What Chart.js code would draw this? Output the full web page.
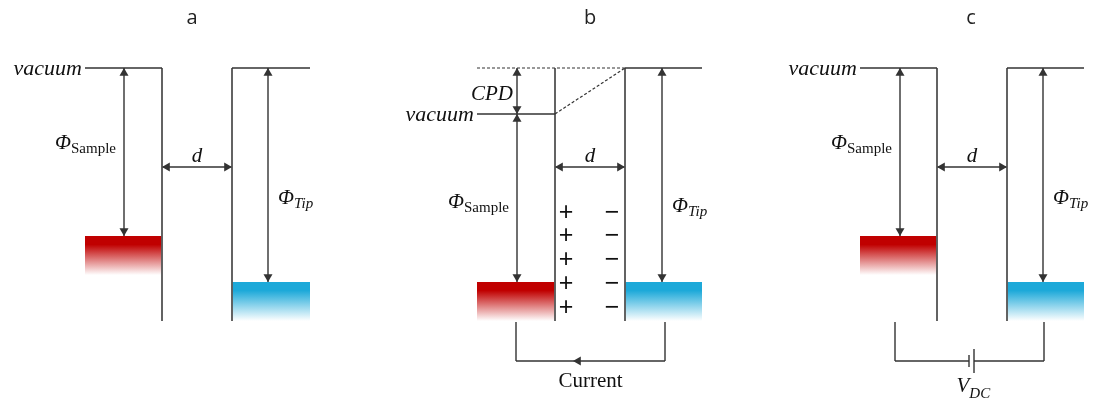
<!DOCTYPE html>
<html><head><meta charset="utf-8">
<script src="https://cdn.jsdelivr.net/npm/chart.js@4/dist/chart.umd.min.js"></script>
<style>html,body{margin:0;padding:0;background:#fff;overflow:hidden}</style>
</head><body>
<canvas id="c" width="1093" height="407" style="display:block;width:1093px;height:407px"></canvas>
<script>
// ---- diagram data (panel a, b, c) ----
const panelTitles   = ['a', 'b', 'c'];
const titleX        = [192, 590, 971];
const sampleWallX   = [162, 555, 937];
const tipWallX      = [232, 625, 1007];
const sampleLeftX   = [85, 477, 860];
const tipRightX     = [310, 702, 1084];
const sampleVacuumY = [68, 114, 68];
const tipVacuumY    = [68, 68, 68];
const sampleFermiY  = [236, 282, 236];
const tipFermiY     = [282, 282, 282];
const phiSampleX    = [124, 517, 900];
const phiTipX       = [268, 662, 1043];
const wallBottomY   = 321;
const gapArrowY     = 167;
const circuitLeftX  = [null, 516, 895];
const circuitRightX = [null, 665, 1044];
const circuitY      = [322, 361];
const chargeRowsY   = [212, 235, 259, 283, 307];
const chargeX       = [566, 612];
const batteryPlateX = [969, 974];
const batteryPlateH = [6, 12];
const currentArrowX = 573;
const levelLabels   = ['vacuum', 'CPD', 'd', 'Current'];
const phiSampleLabelY = [149, 208, 149];
const phiTipLabelY    = [204, 212, 204];

// ---- styling ----
const LINE = '#333333', WALL = '#5c5c5c', TXT = '#111111';
const SERIF = '"Liberation Serif","DejaVu Serif",serif';
const SANS = '"Open Sans","Liberation Sans",sans-serif';
const HEAD_R = 5.2;
const FADE = 39;

const lines = [], fills = [], heads = [];
function seg(pts, color, width, dash) {
  lines.push({data: pts.map(p => ({x: p[0], y: p[1]})), borderColor: color, borderWidth: width,
    borderDash: dash || [], pointRadius: 0, fill: false, showLine: true, tension: 0});
}
const DIRS = {up: [0, -1, 0], down: [0, 1, 180], left: [-1, 0, 270], right: [1, 0, 90]};
function head(x, y, dir) {
  const d = DIRS[dir];
  heads.push({x: x - d[0] * HEAD_R, y: y - d[1] * HEAD_R, rot: d[2]});
}
function vArrow(x, y1, y2) { seg([[x, y1], [x, y2]], LINE, 1.4); head(x, y1, 'up'); head(x, y2, 'down'); }
function hArrow(y, x1, x2) { seg([[x1, y], [x2, y]], LINE, 1.4); head(x1, y, 'left'); head(x2, y, 'right'); }
function grad(top, bottom, c0, c1) {
  return (context) => {
    const ch = context.chart;
    if (!ch.chartArea) return c0;
    const y0 = ch.scales.y.getPixelForValue(top), y1 = ch.scales.y.getPixelForValue(bottom);
    const g = ch.ctx.createLinearGradient(0, y0, 0, y1);
    g.addColorStop(0, c0); g.addColorStop(0.22, c0); g.addColorStop(1, c1);
    return g;
  };
}
function block(l, r, top, color) {
  fills.push({data: [{x: l, y: top}, {x: r, y: top}], fill: {value: top + FADE},
    backgroundColor: grad(top, top + FADE, color, 'rgba(255,255,255,1)'),
    borderWidth: 0, borderColor: 'rgba(0,0,0,0)', pointRadius: 0, showLine: true, tension: 0});
}

for (let i = 0; i < 3; i++) {
  if (i === 1) {
    seg([[sampleLeftX[i], tipVacuumY[i]], [tipWallX[i], tipVacuumY[i]]], '#333', 1.2, [3, 2]);
    seg([[sampleWallX[i], sampleVacuumY[i]], [tipWallX[i], tipVacuumY[i]]], '#333', 1.2, [3, 2]);
    vArrow(phiSampleX[i], tipVacuumY[i], sampleVacuumY[i]);
  }
  seg([[sampleLeftX[i], sampleVacuumY[i]], [sampleWallX[i], sampleVacuumY[i]]], LINE, 1.4);
  seg([[sampleWallX[i], tipVacuumY[i]], [sampleWallX[i], wallBottomY]], WALL, 1.9);
  vArrow(phiSampleX[i], sampleVacuumY[i], sampleFermiY[i]);
  block(sampleLeftX[i], sampleWallX[i], sampleFermiY[i], '#c00000');
  seg([[tipWallX[i], tipVacuumY[i]], [tipRightX[i], tipVacuumY[i]]], LINE, 1.4);
  seg([[tipWallX[i], tipVacuumY[i]], [tipWallX[i], wallBottomY]], WALL, 1.9);
  vArrow(phiTipX[i], tipVacuumY[i], tipFermiY[i]);
  block(tipWallX[i], tipRightX[i], tipFermiY[i], '#1da9d9');
  hArrow(gapArrowY, sampleWallX[i], tipWallX[i]);
  if (circuitLeftX[i] !== null) {
    seg([[circuitLeftX[i], circuitY[0]], [circuitLeftX[i], circuitY[1]]], LINE, 1.4);
    seg([[circuitRightX[i], circuitY[0]], [circuitRightX[i], circuitY[1]]], LINE, 1.4);
    if (i === 1) {
      seg([[circuitLeftX[i], circuitY[1]], [circuitRightX[i], circuitY[1]]], LINE, 1.4);
      head(currentArrowX, circuitY[1], 'left');
    } else {
      seg([[circuitLeftX[i], circuitY[1]], [batteryPlateX[0], circuitY[1]]], LINE, 1.4);
      seg([[batteryPlateX[1], circuitY[1]], [circuitRightX[i], circuitY[1]]], LINE, 1.4);
      seg([[batteryPlateX[0], circuitY[1] - batteryPlateH[0]], [batteryPlateX[0], circuitY[1] + batteryPlateH[0]]], LINE, 1.4);
      seg([[batteryPlateX[1], circuitY[1] - batteryPlateH[1]], [batteryPlateX[1], circuitY[1] + batteryPlateH[1]]], LINE, 1.4);
    }
  }
}

const headSet = {data: heads.map(h => ({x: h.x, y: h.y})), showLine: false, pointStyle: 'triangle',
  pointRadius: HEAD_R, pointRotation: heads.map(h => h.rot), pointBackgroundColor: LINE,
  pointBorderColor: LINE, pointBorderWidth: 0, borderWidth: 0};

const labelPlugin = {
  id: 'labels',
  afterDatasetsDraw(chart) {
    const {ctx, scales} = chart;
    const X = v => scales.x.getPixelForValue(v), Y = v => scales.y.getPixelForValue(v);
    ctx.save();
    ctx.fillStyle = TXT;
    ctx.textBaseline = 'alphabetic';
    const put = (s, x, y, font, align) => { ctx.font = font; ctx.textAlign = align; ctx.fillText(s, X(x), Y(y)); };
    const withSub = (main, sub, x, y, mainFont, subFont, align, subDy) => {
      ctx.font = mainFont; const w1 = ctx.measureText(main).width;
      ctx.font = subFont; const w2 = ctx.measureText(sub).width;
      let sx = X(x);
      if (align === 'right') sx -= w1 + w2; else if (align === 'center') sx -= (w1 + w2) / 2;
      ctx.textAlign = 'left';
      ctx.font = mainFont; ctx.fillText(main, sx, Y(y));
      ctx.font = subFont; ctx.fillText(sub, sx + w1, Y(y) + subDy);
    };
    for (let i = 0; i < 3; i++) {
      ctx.fillStyle = '#222';
      put(panelTitles[i], titleX[i], 24, '20px ' + SANS, 'center');
      ctx.fillStyle = TXT;
      put(levelLabels[0], sampleLeftX[i] - 3, sampleVacuumY[i] + 7, 'italic 22px ' + SERIF, 'right');
      put(levelLabels[2], (sampleWallX[i] + tipWallX[i]) / 2, 162, 'italic 21px ' + SERIF, 'center');
      withSub('\u03A6', 'Sample', phiSampleX[i] - 8, phiSampleLabelY[i], 'italic 21px ' + SERIF, '15px ' + SERIF, 'right', 4);
      withSub('\u03A6', 'Tip', phiTipX[i] + 10, phiTipLabelY[i], 'italic 21px ' + SERIF, 'italic 15px ' + SERIF, 'left', 4);
    }
    put(levelLabels[1], phiSampleX[1] - 4, 100, 'italic 21px ' + SERIF, 'right');
    put(levelLabels[3], (circuitLeftX[1] + circuitRightX[1]) / 2, 387, '21px ' + SERIF, 'center');
    withSub('V', 'DC', (batteryPlateX[0] + batteryPlateX[1]) / 2 - 15, 392, 'italic 21px ' + SERIF, 'italic 15px ' + SERIF, 'left', 6);
    const pmFont = '25px "Liberation Sans","DejaVu Sans",sans-serif';
    chargeRowsY.forEach(yv => {
      put('+', chargeX[0], yv + 8, pmFont, 'center');
      put('\u2212', chargeX[1], yv + 8, pmFont, 'center');
    });
    ctx.restore();
  }
};

new Chart(document.getElementById('c'), {
  type: 'line',
  data: {datasets: [headSet, ...lines, ...fills]},
  options: {
    responsive: false, animation: false, devicePixelRatio: 1, events: [],
    layout: {padding: 0, autoPadding: false},
    plugins: {legend: {display: false}, tooltip: {enabled: false}},
    scales: {
      x: {type: 'linear', min: 0, max: 1093, display: false},
      y: {type: 'linear', min: 0, max: 407, reverse: true, display: false}
    }
  },
  plugins: [labelPlugin]
});
</script></body></html>
